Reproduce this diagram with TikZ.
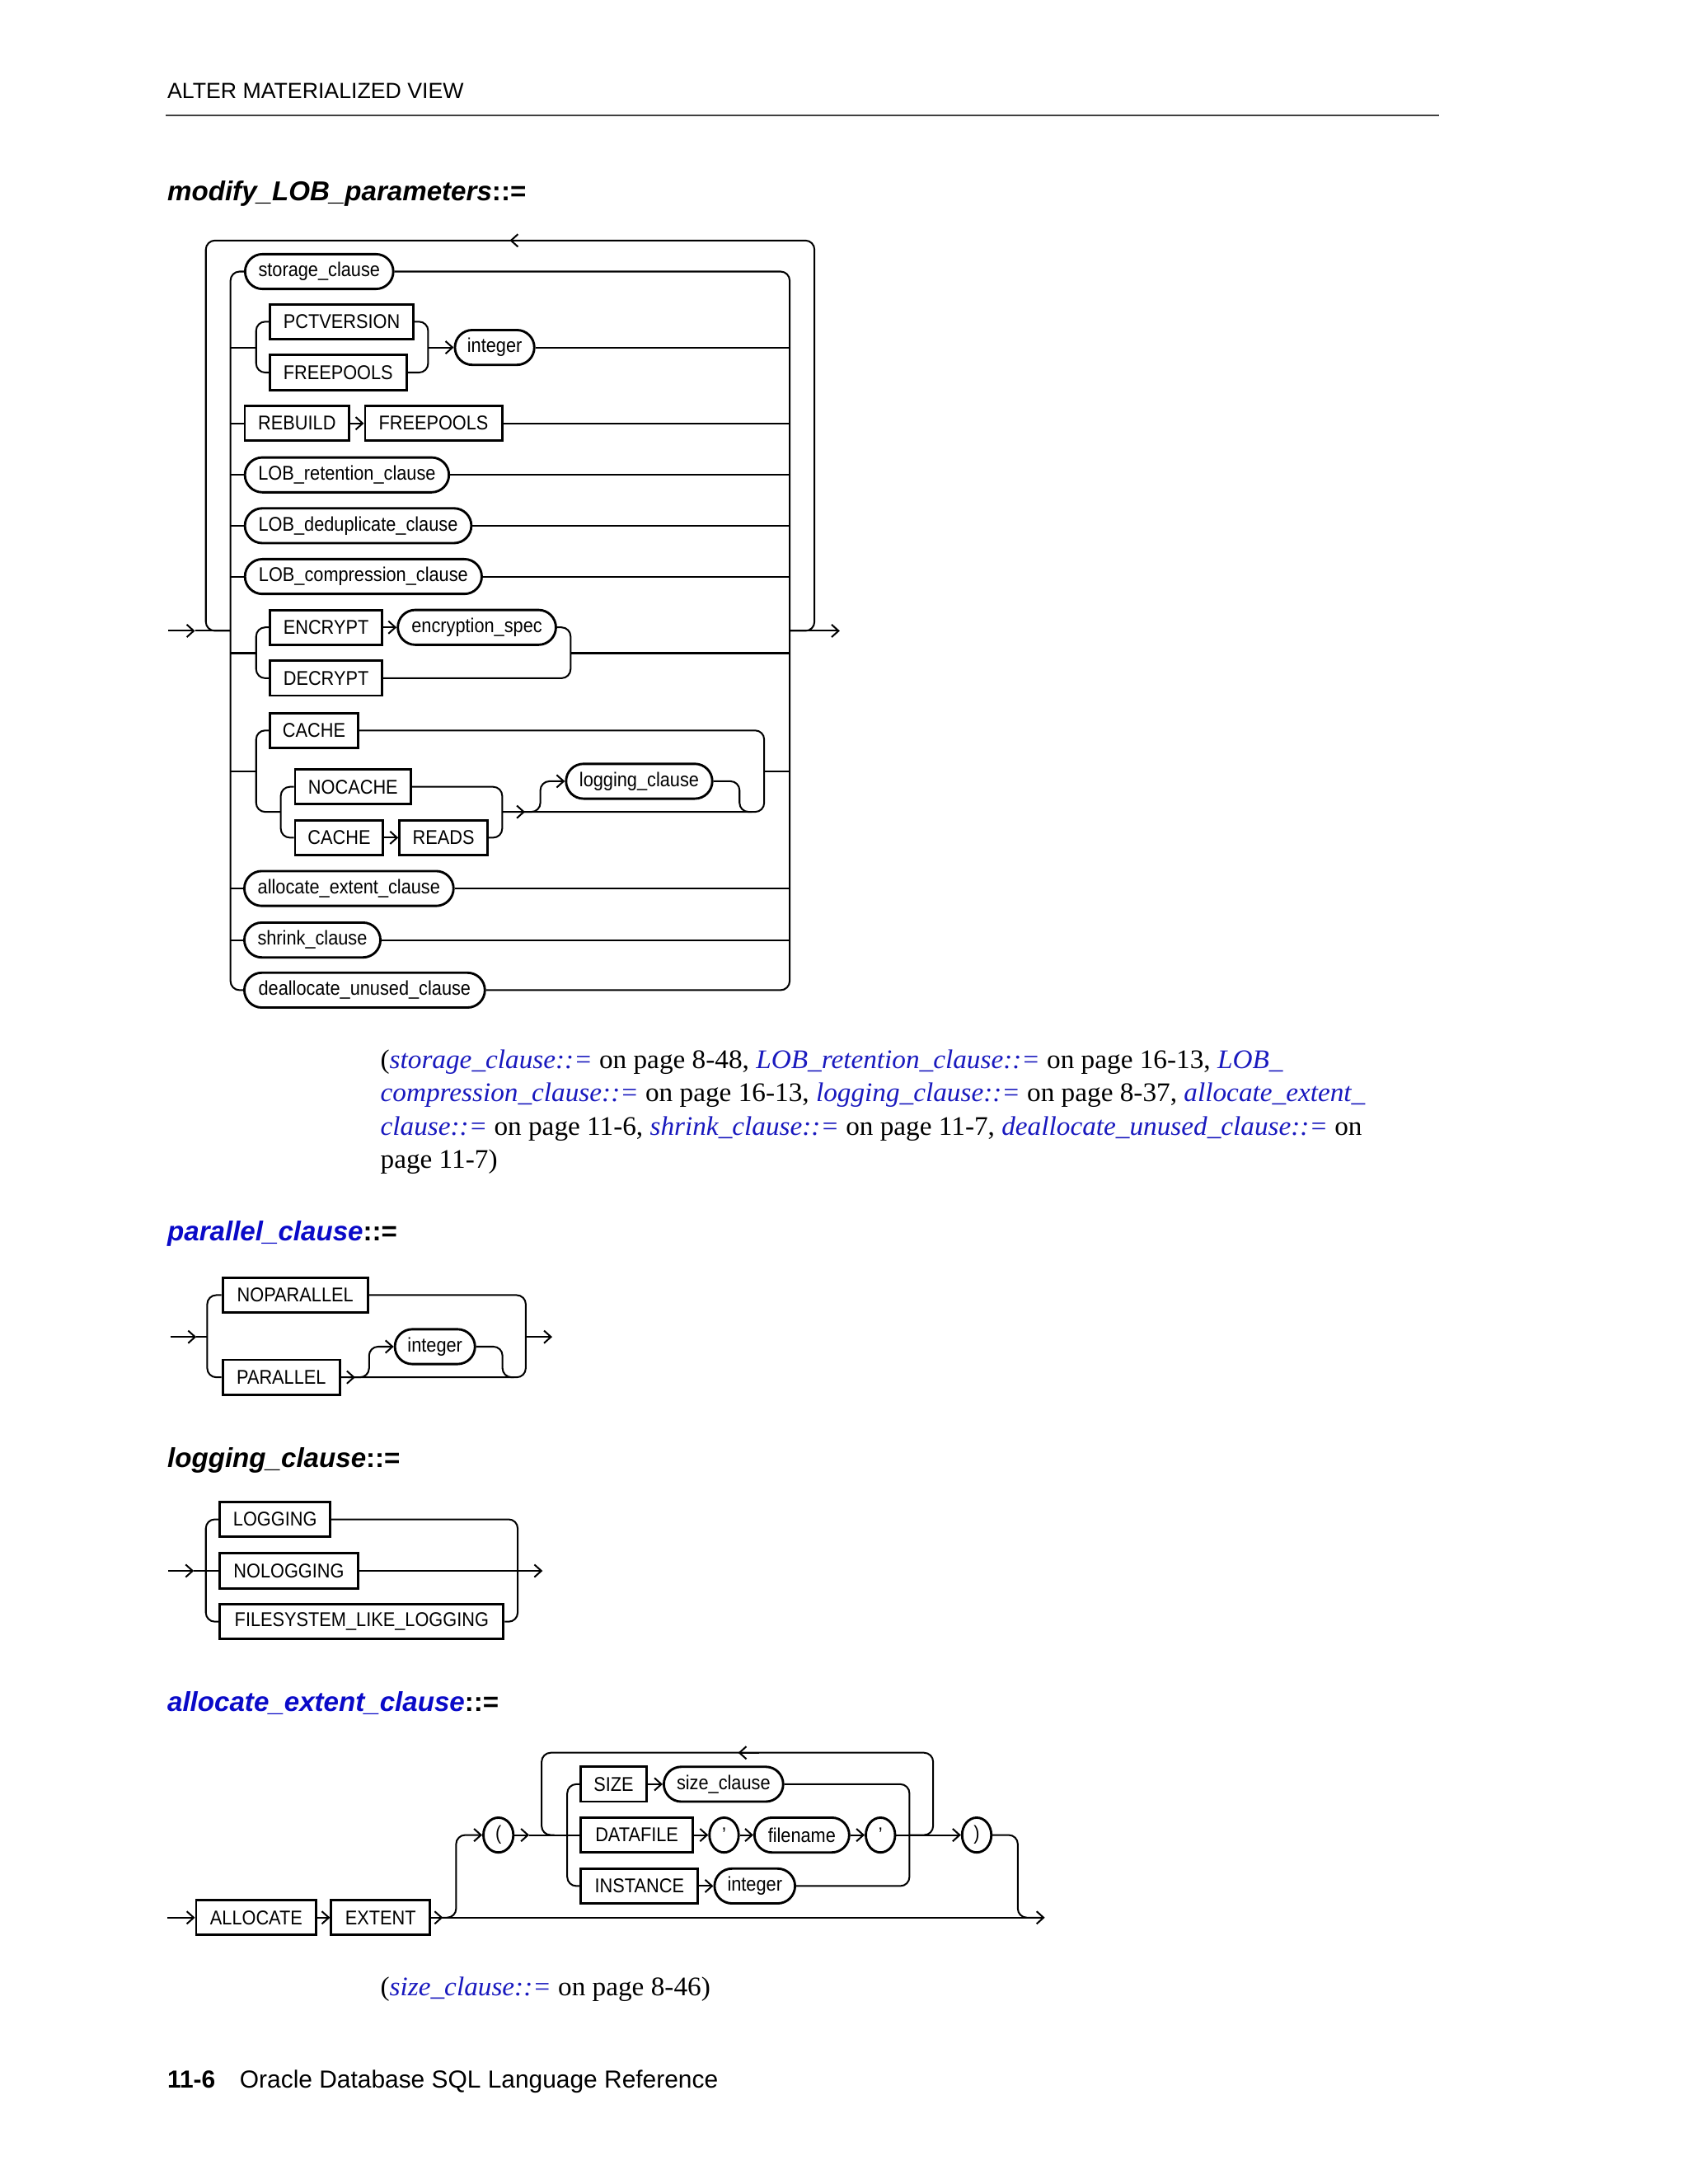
\documentclass[tikz,border=0pt]{standalone}
\usepackage{fontspec}
\setmainfont{Liberation Serif}
\newfontfamily\sansf{Liberation Sans}
\newfontfamily\narf[FakeStretch=0.9]{Liberation Sans}
\newfontfamily\bodyf[FakeStretch=1.02]{Liberation Serif}
\usetikzlibrary{arrows.meta,shapes.geometric}
\definecolor{lnk}{RGB}{25,25,190}
\definecolor{hblue}{RGB}{10,10,200}
\newcommand\lab{\narf\fontsize{14.3}{16}\selectfont}
\newcommand\lk[1]{{\color{lnk}\itshape #1}}
\tikzset{
  ln/.style={line width=1.2pt, rounded corners=6.5pt},
  arr/.style={-{Straight Barb[length=5pt,width=9pt]}},
  kw/.style={draw, line width=1.7pt, minimum height=25pt, inner sep=0pt, font=\lab},
  nt/.style={kw, rounded corners=12.5pt},
  el/.style={draw, ellipse, line width=1.7pt, minimum height=25pt, inner sep=0pt, font=\lab},
  txt/.style={anchor=base west, inner sep=0pt},
}
\begin{document}
\begin{tikzpicture}[x=1pt,y=-1pt]
\fill[white] (0,0) rectangle (1212,1568.3);
\useasboundingbox (0,0) rectangle (1212,1568.3);

% ---------- header ----------
\node[txt, font=\sansf\fontsize{15.8}{18}\selectfont] (title) at (120,70.7) {ALTER MATERIALIZED VIEW};
\draw[line width=1.2pt, black!75] (119,83) -- (1033,83);
\node[txt, font=\sansf\bfseries\itshape\fontsize{19.6}{22}\selectfont] (h1) at (120,144) {modify\_LOB\_parameters{\upshape::=}};

% ---------- modify_LOB_parameters ----------
\node[nt, minimum width=106.4pt] (sto) at (229.2,195) {storage\_clause};
\node[kw, minimum width=103pt] (pct) at (245.35,231) {PCTVERSION};
\node[kw, minimum width=98pt] (free1) at (242.8,267.5) {FREEPOOLS};
\node[nt, minimum width=57pt] (int1) at (355.15,249.5) {integer};
\node[kw, minimum width=75pt] (reb) at (213.25,304) {REBUILD};
\node[kw, minimum width=98.3pt] (free2) at (311.3,304) {FREEPOOLS};
\node[nt, minimum width=146.5pt] (ret) at (249.1,341) {LOB\_retention\_clause};
\node[nt, minimum width=162.6pt] (ded) at (257.15,377.5) {LOB\_deduplicate\_clause};
\node[nt, minimum width=170pt] (comp) at (260.9,414) {LOB\_compression\_clause};
\node[kw, minimum width=80.5pt] (enc) at (234.1,450.5) {ENCRYPT};
\node[nt, minimum width=113.5pt] (encs) at (342.4,450.5) {encryption\_spec};
\node[kw, minimum width=80.5pt] (dec) at (234.1,487) {DECRYPT};
\node[kw, minimum width=63.3pt] (cache) at (225.5,524.5) {CACHE};
\node[kw, minimum width=83.3pt] (noc) at (253.5,565) {NOCACHE};
\node[kw, minimum width=63.3pt] (cache2) at (243.5,601.5) {CACHE};
\node[kw, minimum width=63.3pt] (reads) at (318.5,601.5) {READS};
\node[nt, minimum width=105pt] (logc) at (458.95,561) {logging\_clause};
\node[nt, minimum width=150.2pt] (alc) at (250.55,638) {allocate\_extent\_clause};
\node[nt, minimum width=97.7pt] (shr) at (224.3,675) {shrink\_clause};
\node[nt, minimum width=172.7pt] (deal) at (261.8,711) {deallocate\_unused\_clause};

\coordinate (mIn) at (121,453);
\coordinate (mL) at (165.5,453);
\coordinate (mR) at (567,453);
\coordinate (mOut) at (603,453);
\draw[ln,arr] (mIn) -- (140,453);
\draw[ln] (140,453) -- (mL);
\draw[ln] (mR) -| (584.8,172.7) -| (147.8,453) -- (mL);
\draw[ln,arr] (380,172.7) -- (366,172.7);
\draw[ln,arr] (mR) -- (mOut);
\draw[ln] (sto.west) -| (165.5,711) -- (deal.west);
\draw[ln] (sto.east) -| (567,711) -- (deal.east);
% pctversion / freepools
\draw[ln] (165.5,249.5) -- (183.9,249.5);
\draw[ln] (pct.west) -| (183.9,267.5) -- (free1.west);
\draw[ln] (pct.east) -| (307.4,267.5) -- (free1.east);
\draw[ln,arr] (307.4,249.5) -- (int1.west);
\draw[ln] (int1.east) -- (567,249.5);
% rebuild freepools
\draw[ln] (165.5,304) -- (reb.west);
\draw[ln,arr] (reb.east) -- (free2.west);
\draw[ln] (free2.east) -- (567,304);
% simple rows
\draw[ln] (165.5,341) -- (ret.west);  \draw[ln] (ret.east) -- (567,341);
\draw[ln] (165.5,377.5) -- (ded.west);  \draw[ln] (ded.east) -- (567,377.5);
\draw[ln] (165.5,414) -- (comp.west);  \draw[ln] (comp.east) -- (567,414);
\draw[ln] (165.5,638) -- (alc.west);  \draw[ln] (alc.east) -- (567,638);
\draw[ln] (165.5,675) -- (shr.west);  \draw[ln] (shr.east) -- (567,675);
% encrypt / decrypt
\draw[ln] (165.5,469) -- (183.9,469);
\draw[ln] (enc.west) -| (183.9,487) -- (dec.west);
\draw[ln,arr] (enc.east) -- (encs.west);
\draw[ln] (encs.east) -| (409.7,487) -- (dec.east);
\draw[ln] (409.7,469) -- (567,469);
% cache group
\draw[ln] (165.5,554) -- (183.9,554);
\draw[ln] (cache.west) -| (183.9,583) -- (201.6,583);
\draw[ln] (noc.west) -| (201.6,601.5) -- (cache2.west);
\draw[ln,arr] (cache2.east) -- (reads.west);
\draw[ln] (noc.east) -| (360.6,601.5) -- (reads.east);
\draw[ln] (cache.east) -| (548.7,583) -- (360.6,583);
\draw[ln,arr] (360.6,583) -- (377,583);
\draw[ln,arr] (374,583) -| (388,561) -- (logc.west);
\draw[ln] (logc.east) -| (531,583) -- (540,583);
\draw[ln] (548.7,554) -- (567,554);

% ---------- footnotes ----------
\begin{scope}[every node/.style={txt, font=\bodyf\fontsize{19.3}{24}\selectfont}]
\node (fn1) at (273,767) {(\lk{storage\_clause::=} on page 8-48, \lk{LOB\_retention\_clause::=} on page 16-13, \lk{LOB\_}};
\node (fn2) at (273,791) {\lk{compression\_clause::=} on page 16-13, \lk{logging\_clause::=} on page 8-37, \lk{allocate\_extent\_}};
\node (fn3) at (273,815) {\lk{clause::=} on page 11-6, \lk{shrink\_clause::=} on page 11-7, \lk{deallocate\_unused\_clause::=} on};
\node (fn4) at (273,839) {page 11-7)};
\node (fn5) at (273,1433) {(\lk{size\_clause::=} on page 8-46)};
\end{scope}

% ---------- parallel_clause ----------
\node[txt, font=\sansf\bfseries\itshape\fontsize{19.6}{22}\selectfont] (h2) at (120,891) {{\color{hblue}parallel\_clause}{\upshape::=}};
\node[kw, minimum width=104.3pt] (nop) at (212,930) {NOPARALLEL};
\node[kw, minimum width=84.3pt] (par) at (202,989) {PARALLEL};
\node[nt, minimum width=57.5pt] (int2) at (312.3,967) {integer};
\draw[ln,arr] (122.3,960) -- (141,960);
\draw[ln] (141,960) -- (148.8,960);
\draw[ln] (nop.west) -| (148.8,989) -- (par.west);
\draw[ln] (nop.east) -| (377.5,989) -- (par.east);
\draw[ln,arr] (par.east) -- (255,989);
\draw[ln,arr] (250,989) -| (265,967) -- (int2.west);
\draw[ln] (int2.east) -| (360.8,989) -- (369,989);
\draw[ln,arr] (377.5,960) -- (396.5,960);

% ---------- logging_clause ----------
\node[txt, font=\sansf\bfseries\itshape\fontsize{19.6}{22}\selectfont] (h3) at (120,1054) {logging\_clause{\upshape::=}};
\node[kw, minimum width=79.3pt] (logg) at (197.5,1091) {LOGGING};
\node[kw, minimum width=99.1pt] (nolog) at (207.4,1128) {NOLOGGING};
\node[kw, minimum width=203.7pt] (fs) at (259.7,1164.5) {FILESYSTEM\_LIKE\_LOGGING};
\draw[ln,arr] (120.8,1128) -- (139.2,1128);
\draw[ln] (139.2,1128) -- (nolog.west);
\draw[ln] (logg.west) -| (147.8,1164.5) -- (fs.west);
\draw[ln] (logg.east) -| (371.7,1164.5) -- (fs.east);
\draw[ln] (nolog.east) -- (371.7,1128);
\draw[ln,arr] (371.7,1128) -- (389.6,1128);

% ---------- allocate_extent_clause ----------
\node[txt, font=\sansf\bfseries\itshape\fontsize{19.6}{22}\selectfont] (h4) at (120,1229) {{\color{hblue}allocate\_extent\_clause}{\upshape::=}};
\node[kw, minimum width=86.3pt] (allocb) at (184,1377) {ALLOCATE};
\node[kw, minimum width=70.8pt] (ext) at (273.25,1377) {EXTENT};
\node[el, minimum width=21.5pt] (lp) at (357.85,1317.7) {(};
\node[kw, minimum width=46.9pt] (size) at (440.6,1281.2) {SIZE};
\node[nt, minimum width=85.7pt] (sizec) at (519.5,1281.2) {size\_clause};
\node[kw, minimum width=80.2pt] (dataf) at (457.25,1317.7) {DATAFILE};
\node[el, minimum width=21pt] (q1) at (519.9,1317.7) {’};
\node[nt, minimum width=68pt] (fname) at (575.75,1317.7) {filename};
\node[el, minimum width=21pt] (q2) at (632.2,1317.7) {’};
\node[kw, minimum width=84pt] (inst) at (459.15,1354.3) {INSTANCE};
\node[nt, minimum width=57.8pt] (int3) at (541.95,1354.3) {integer};
\node[el, minimum width=21pt] (rp) at (701.3,1317.7) {)};
\draw[ln,arr] (120,1377) -- (allocb.west);
\draw[ln,arr] (allocb.east) -- (ext.west);
\draw[ln,arr] (ext.east) -- (318,1377);
\draw[ln] (316,1377) -- (740,1377);
\draw[ln,arr] (316,1377) -| (327.5,1317.7) -- (lp.west);
\draw[ln,arr] (lp.east) -- (380,1317.7);
\draw[ln] (380,1317.7) -- (dataf.west);
\draw[ln] (653,1317.7) -| (670,1258.6) -| (388.9,1317.7) -- (398,1317.7);
\draw[ln,arr] (545,1258.6) -- (530,1258.6);
\draw[ln] (size.west) -| (407.3,1354.3) -- (inst.west);
\draw[ln,arr] (size.east) -- (sizec.west);
\draw[ln] (sizec.east) -| (653,1354.3) -- (int3.east);
\draw[ln,arr] (dataf.east) -- (q1.west);
\draw[ln,arr] (q1.east) -- (fname.west);
\draw[ln,arr] (fname.east) -- (q2.west);
\draw[ln,arr] (q2.east) -- (rp.west);
\draw[ln,arr] (inst.east) -- (int3.west);
\draw[ln,arr] (rp.east) -| (730.8,1377) -- (750.2,1377);

% ---------- footer ----------
\node[txt, font=\sansf\bfseries\fontsize{17.7}{20}\selectfont] (pg) at (120,1499.4) {11-6};
\node[txt, font=\sansf\fontsize{17.7}{20}\selectfont] (book) at (172,1499.4) {Oracle Database SQL Language Reference};
\end{tikzpicture}
\end{document}
